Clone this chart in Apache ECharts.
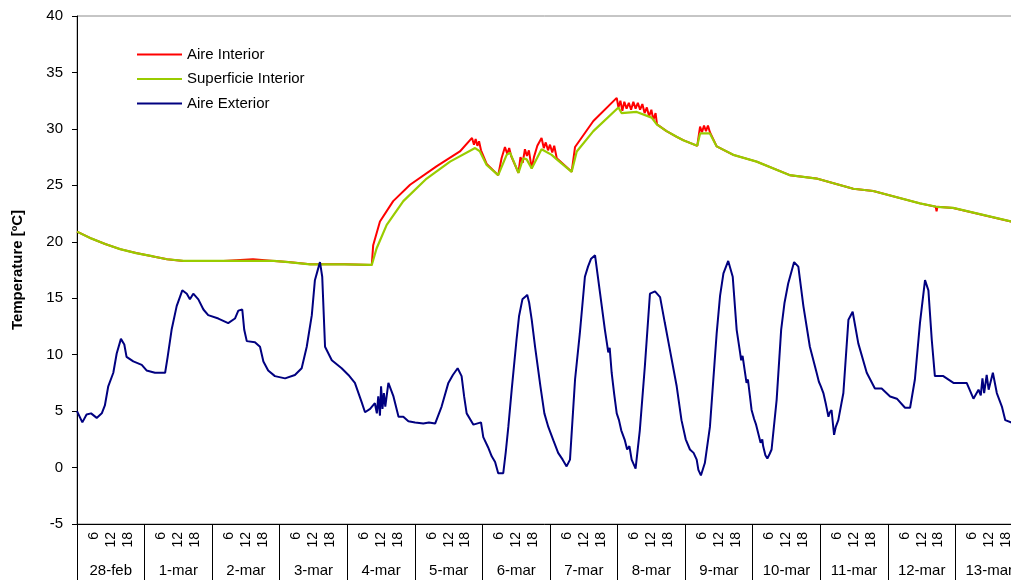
<!DOCTYPE html>
<html>
<head>
<meta charset="utf-8">
<script src="https://cdn.jsdelivr.net/npm/echarts@6/dist/echarts.min.js"></script>
<style>
  html, body { margin: 0; padding: 0; background: #fff; }
  #chart { width: 1011px; height: 580px; }
</style>
</head>
<body>
<div id="chart"></div>
<script>
// Day labels along the bottom band (one cell per day)
const dayLabels = ['28-feb', '1-mar', '2-mar', '3-mar', '4-mar', '5-mar', '6-mar',
  '7-mar', '8-mar', '9-mar', '10-mar', '11-mar', '12-mar', '13-mar'];
// Hour marks written inside each day cell
const hourLabels = ['6', '12', '18'];
// Temperature axis ticks
const tempTicks = [-5, 0, 5, 10, 15, 20, 25, 30, 35, 40];

// Readings as [hours since 28-feb 00:00, °C]
const aireInterior = [
  [0, 20.9], [5, 20.3], [10, 19.8], [15.3, 19.35], [21, 19.0], [27.1, 18.7], [32, 18.45],
  [37.8, 18.3], [48, 18.3], [52, 18.3], [52.5, 18.45], [62.5, 18.45], [63, 18.3], [70, 18.3],
  [75, 18.2], [82.8, 18.0], [95, 18.0], [104.7, 17.95],
  [105.2, 19.7], [107.6, 21.8], [112.3, 23.6], [118.3, 25.05], [127.8, 26.7], [136, 28.0],
  [140.3, 29.2], [141, 28.6], [141.6, 29.1], [142.2, 28.5], [142.8, 28.9], [143.5, 28.1],
  [145.5, 26.9], [149.6, 25.9], [150.8, 27.4], [152, 28.4], [152.8, 27.8], [153.5, 28.3],
  [154.2, 27.6], [156.8, 26.1], [157.5, 27.5], [158.3, 27.0], [159.1, 28.2], [159.8, 27.6],
  [160.5, 28.1], [161.5, 26.5], [162.3, 27.5], [163.5, 28.5], [165, 29.2], [165.8, 28.3],
  [166.5, 28.8], [167.3, 28.1], [168, 28.6], [168.8, 27.9], [169.5, 28.5], [170.4, 27.4],
  [175.7, 26.2], [176.9, 28.4], [183.4, 30.7], [191.7, 32.75], [192.3, 31.9], [193, 32.5],
  [193.7, 31.6], [194.4, 32.4], [195.2, 31.8], [196, 32.3], [196.8, 31.7], [197.6, 32.4],
  [198.4, 31.8], [199.2, 32.3], [200, 31.7], [200.8, 32.2], [201.6, 31.4], [202.4, 31.9],
  [203.2, 31.1], [204, 31.7], [204.7, 30.8], [205.5, 31.4], [206, 30.4], [209.4, 29.8],
  [213, 29.3], [215.3, 29.0], [220.3, 28.5], [221.3, 30.2], [222, 29.7], [222.7, 30.3],
  [223.4, 29.8], [224.1, 30.3], [224.8, 29.7], [227.2, 28.45], [233.1, 27.7], [241.4, 27.1],
  [253.2, 25.9], [262.7, 25.6], [275.7, 24.7], [282.8, 24.5], [299.4, 23.4], [305, 23.1],
  [305.3, 22.7], [305.6, 23.1], [311.2, 23.0], [331.7, 21.8], [336, 21.7]
];

const superficieInterior = [
  [0, 20.9], [5, 20.3], [10, 19.8], [15.3, 19.35], [21, 19.0], [27.1, 18.7], [32, 18.45],
  [37.8, 18.3], [48, 18.3], [60, 18.3], [70, 18.3], [75, 18.2], [82.8, 18.0], [95, 18.0],
  [104.7, 17.95], [106.4, 19.4], [110, 21.5], [115.9, 23.6], [124.2, 25.6], [132.5, 27.1],
  [141.4, 28.3], [143.1, 28.0], [145.5, 26.8], [149.6, 25.9], [152.6, 27.7], [153.8, 27.9],
  [156.8, 26.1], [158.5, 27.4], [159.7, 27.3], [161.5, 26.5], [165, 28.2], [168.6, 27.7],
  [170.4, 27.3], [175.7, 26.2], [177.5, 28.0], [183.4, 29.8], [192.3, 31.9], [193.4, 31.4],
  [198.8, 31.5], [204.1, 31.0], [205.9, 30.4], [209.4, 29.8], [213, 29.3], [215.3, 29.0],
  [220.3, 28.5], [221.3, 29.6], [224.8, 29.6], [227.2, 28.45], [233.1, 27.7], [241.4, 27.1],
  [253.2, 25.9], [262.7, 25.6], [275.7, 24.7], [282.8, 24.5], [299.4, 23.4], [305.3, 23.1],
  [311.2, 23.0], [331.7, 21.8], [336, 21.7]
];

const aireExterior = [
  [0, 5.0], [1.9, 4.0], [3.4, 4.7], [5, 4.8], [7, 4.4], [8.8, 4.8], [9.9, 5.5], [11.1, 7.2],
  [12.9, 8.4], [14.1, 10.1], [15.6, 11.4], [16.8, 10.9], [17.6, 9.8], [20, 9.4], [23, 9.1],
  [24.7, 8.6], [27.7, 8.4], [31.3, 8.4], [32.2, 9.8], [33.6, 12.2], [35.4, 14.3], [37.4, 15.7],
  [39, 15.4], [40.1, 14.9], [41.3, 15.4], [43.1, 14.9], [44.9, 14.0], [46.6, 13.5], [50.2, 13.2],
  [53.7, 12.8], [56.1, 13.2], [57.3, 13.9], [58.7, 14.0], [59.4, 12.2], [60.3, 11.2], [63.2, 11.1],
  [65, 10.7], [66.2, 9.4], [67.9, 8.6], [70.3, 8.1], [73.9, 7.9], [77.4, 8.2], [79.8, 8.8],
  [81.6, 10.7], [83.4, 13.5], [84.5, 16.6], [85.4, 17.4], [86.3, 18.2], [87.1, 16.9], [88.1, 10.7],
  [90.5, 9.5], [94, 8.8], [96.4, 8.2], [98.7, 7.5], [101.1, 5.8], [102.3, 4.9], [104.1, 5.2],
  [105.8, 5.7], [106.5, 4.8], [107, 6.3], [107.6, 4.6], [108, 7.2], [108.5, 5.2], [109, 6.6],
  [109.5, 5.4], [110.6, 7.5], [112.4, 6.3], [114.2, 4.5], [115.9, 4.5], [117.7, 4.1], [120.1, 4.0],
  [123, 3.9], [125, 4.0], [127.2, 3.9], [129.5, 5.4], [131.9, 7.5], [133.5, 8.2], [135.2, 8.8],
  [136.6, 8.1], [137.5, 6.3], [138.4, 4.8], [140.8, 3.8], [143.5, 4.0], [144.3, 2.7], [146, 1.8],
  [147.3, 1.0], [148.5, 0.5], [149.6, -0.5], [151.4, -0.5], [152.3, 1.4], [153.2, 3.6],
  [154.4, 6.9], [156.1, 11.3], [157, 13.4], [158.2, 14.9], [159.1, 15.1], [159.9, 15.3],
  [160.6, 14.6], [161.5, 13.1], [162.7, 10.7], [164.6, 7.2], [166, 4.8], [167.4, 3.6],
  [169.2, 2.4], [170.9, 1.3], [172.5, 0.7], [173.9, 0.1], [175.1, 0.7], [176.9, 7.8],
  [178.6, 11.9], [180.4, 16.9], [181.5, 17.8], [182.6, 18.5], [184, 18.8], [185.8, 15.4],
  [187.5, 12.2], [188.7, 10.2], [189.2, 10.6], [189.9, 8.4], [190.8, 6.5], [191.7, 4.8],
  [192.5, 4.2], [193.3, 3.3], [194.6, 2.4], [195.4, 1.6], [196.2, 1.9], [197, 0.7], [198.4, -0.1],
  [199.9, 3.3], [201.7, 9.0], [203.5, 15.4], [205.3, 15.6], [207.1, 15.1], [208.8, 12.8],
  [210.6, 10.4], [213, 7.2], [214.7, 4.2], [216.2, 2.5], [217.7, 1.6], [219, 1.3], [220.1, 0.7],
  [220.7, -0.2], [221.6, -0.7], [223, 0.4], [224.8, 3.6], [227.2, 11.9], [228.4, 15.2],
  [229.6, 17.2], [231.3, 18.3], [232.9, 16.9], [234.3, 12.2], [235.5, 10.2], [235.9, 9.5],
  [236.4, 9.9], [237.8, 7.5], [238.3, 7.8], [239.6, 5.1], [240.5, 4.3], [241.2, 3.8], [242, 3.0],
  [242.8, 2.2], [243.4, 2.5], [243.7, 1.9], [244.5, 1.1], [245.2, 0.8], [246, 1.2], [246.7, 1.6],
  [248.5, 6.0], [250.1, 12.2], [251.3, 14.6], [252.6, 16.3], [254.7, 18.2], [256.2, 17.8],
  [258, 14.3], [260.3, 10.7], [262.7, 8.4], [263.5, 7.6], [264.2, 7.2], [265.1, 6.6], [266, 5.6],
  [266.9, 4.5], [267.4, 4.9], [268, 5.1], [268.4, 4.1], [268.9, 2.9], [269.5, 3.6], [270.4, 4.2],
  [272.2, 6.6], [274, 13.1], [275.5, 13.8], [277.5, 11.0], [280.5, 8.4], [283.4, 7.0],
  [285.8, 7.0], [288.8, 6.3], [291.2, 6.1], [294.1, 5.3], [295.9, 5.3], [297.6, 7.8],
  [299.4, 12.8], [301.2, 16.6], [302.4, 15.7], [303.6, 11.3], [304.7, 8.1], [307.7, 8.1],
  [311.3, 7.5], [316, 7.5], [318.4, 6.1], [320.2, 6.9], [321, 6.4], [321.6, 7.9], [322.2, 6.6],
  [323.1, 8.2], [323.8, 6.9], [325.3, 8.4], [326.7, 6.6], [328.5, 5.4], [329.7, 4.2],
  [331.7, 4.0], [334, 4.1], [336, 3.8]
];

const FONT = '"Liberation Sans", Arial, sans-serif';
const chart = echarts.init(document.getElementById('chart'), null, { renderer: 'canvas' });

chart.setOption({
  animation: false,
  backgroundColor: '#ffffff',
  textStyle: { fontFamily: FONT, color: '#000' },
  grid: {
    left: 77, top: 16, bottom: 56, right: -12,
    outerBoundsMode: 'none', containLabel: false,
    show: true, borderColor: '#8c8c8c', borderWidth: 1
  },
  legend: {
    orient: 'vertical', left: 137, top: 47, padding: 0,
    icon: 'rect', itemWidth: 45, itemHeight: 2, itemGap: 9.5,
    textStyle: { fontFamily: FONT, fontSize: 15, color: '#000', lineHeight: 15 },
    data: ['Aire Interior', 'Superficie Interior', 'Aire Exterior']
  },
  xAxis: [
    {
      type: 'value', min: 0, max: dayLabels.length * 24, interval: 6,
      position: 'bottom',
      axisLine: { show: true, onZero: false, lineStyle: { color: '#000', width: 1 } },
      axisTick: { show: false },
      splitLine: { show: false },
      axisLabel: {
        rotate: 90, margin: 8, fontSize: 14, color: '#000', fontFamily: FONT,
        formatter: function (v) {
          const h = v % 24;
          return h === 0 ? '' : hourLabels[h / 6 - 1];
        }
      }
    },
    {
      type: 'category', data: dayLabels, position: 'bottom', offset: 0,
      boundaryGap: true,
      axisLine: { show: false, onZero: false },
      axisTick: { show: true, interval: 0, length: 60, lineStyle: { color: '#000', width: 1 } },
      axisLabel: { interval: 0, margin: 39, fontSize: 15, color: '#000', fontFamily: FONT },
      splitLine: { show: false }
    }
  ],
  yAxis: {
    type: 'value', min: tempTicks[0], max: tempTicks[tempTicks.length - 1], interval: 5,
    name: 'Temperature [ºC]', nameLocation: 'middle', nameGap: 52, nameRotate: 90,
    nameTextStyle: { fontFamily: FONT, fontSize: 15, fontWeight: 'bold', color: '#000' },
    axisLine: { show: true, onZero: false, lineStyle: { color: '#000', width: 1 } },
    axisTick: { show: true, length: 5, inside: false, lineStyle: { color: '#000' } },
    axisLabel: { margin: 14, fontSize: 15, color: '#000', fontFamily: FONT },
    splitLine: { show: false }
  },
  series: [
    {
      name: 'Aire Interior', type: 'line', xAxisIndex: 0, data: aireInterior,
      showSymbol: false, symbol: 'none', color: '#ff0000',
      lineStyle: { color: '#ff0000', width: 2 }
    },
    {
      name: 'Superficie Interior', type: 'line', xAxisIndex: 0, data: superficieInterior,
      showSymbol: false, symbol: 'none', color: '#99cc00',
      lineStyle: { color: '#99cc00', width: 2.2 }
    },
    {
      name: 'Aire Exterior', type: 'line', xAxisIndex: 0, data: aireExterior,
      showSymbol: false, symbol: 'none', color: '#000080',
      lineStyle: { color: '#000080', width: 2 }
    }
  ]
});
</script>
</body>
</html>
